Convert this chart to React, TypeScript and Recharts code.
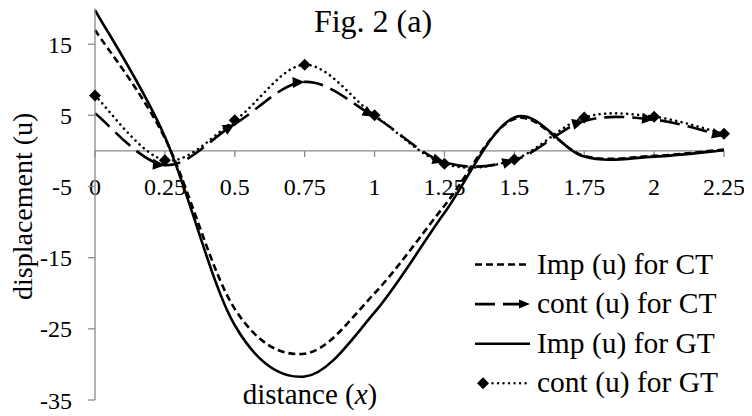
import React from 'react';
import { LineChart, Line, XAxis, YAxis, ReferenceLine, Legend } from 'recharts';

// Sample positions along the beam (x) and the displacement u at each one
const xValues = [0, 0.25, 0.5, 0.75, 1, 1.25, 1.5, 1.75, 2, 2.25];
const impCT = [17.0, 1.8, -22.2, -28.5, -20.0, -7.7, 4.5, -0.7, -0.7, 0.2];
const contCT = [5.3, -2.0, 3.8, 9.7, 4.8, -1.6, -1.3, 4.2, 4.4, 2.1];
const impGT = [19.8, 2.0, -24.5, -31.7, -22.7, -8.7, 4.7, -0.8, -0.8, 0.1];
const contGT = [7.8, -1.3, 4.3, 12.1, 5.0, -1.8, -1.2, 4.7, 4.8, 2.4];

const xDomain: [number, number] = [0, 2.25];
const xTicks = [0, 0.25, 0.5, 0.75, 1, 1.25, 1.5, 1.75, 2, 2.25];
const xTickLabels = ['0', '0.25', '0.5', '0.75', '1', '1.25', '1.5', '1.75', '2', '2.25'];
const yDomain: [number, number] = [-35, 20];
const yTicks = [-35, -25, -15, -5, 5, 15];

const seriesKeys = ['impCT', 'contCT', 'impGT', 'contGT'];
const seriesNames = ['Imp (u) for CT', 'cont (u) for CT', 'Imp (u) for GT', 'cont (u) for GT'];

const data = xValues.map((x, i) => ({
  x,
  impCT: impCT[i],
  contCT: contCT[i],
  impGT: impGT[i],
  contGT: contGT[i],
}));

const FONT = 'Liberation Serif';
const AXIS = '#8a8a8a';
const INK = '#000';

// Cubic Bezier smoothing through every point (Catmull-Rom style control points)
function smoothCurve(context: any) {
  let pts: [number, number][] = [];
  return {
    areaStart() {},
    areaEnd() {},
    lineStart() {
      pts = [];
    },
    point(x: number, y: number) {
      pts.push([+x, +y]);
    },
    lineEnd() {
      const n = pts.length;
      if (!n) return;
      context.moveTo(pts[0][0], pts[0][1]);
      for (let i = 0; i < n - 1; i++) {
        const p0 = pts[Math.max(i - 1, 0)];
        const p1 = pts[i];
        const p2 = pts[i + 1];
        const p3 = pts[Math.min(i + 2, n - 1)];
        context.bezierCurveTo(
          p1[0] + (p2[0] - p0[0]) / 6,
          p1[1] + (p2[1] - p0[1]) / 6,
          p2[0] - (p3[0] - p1[0]) / 6,
          p2[1] - (p3[1] - p1[1]) / 6,
          p2[0],
          p2[1]
        );
      }
    },
  };
}

// Arrowhead at the end of each segment, pointing along the curve
const ArrowDot = (props: any) => {
  const { cx, cy, index, points } = props;
  if (index === 0 || cx == null || cy == null) return <g key={`a-${index}`} />;
  let dx = 1;
  let dy = 0;
  if (Array.isArray(points) && points.length > 1) {
    const prev = points[index - 1];
    const next = points[Math.min(index + 1, points.length - 1)];
    dx = next.x - prev.x;
    dy = next.y - prev.y;
  }
  const ang = (Math.atan2(dy, dx) * 180) / Math.PI;
  return (
    <path
      key={`a-${index}`}
      d="M0,0 L-12,-5.5 L-12,5.5 Z"
      transform={`translate(${cx},${cy}) rotate(${ang})`}
      fill={INK}
    />
  );
};

const DiamondDot = (props: any) => {
  const { cx, cy, index } = props;
  if (cx == null || cy == null) return <g key={`d-${index}`} />;
  const s = 6;
  return (
    <path
      key={`d-${index}`}
      d={`M${cx},${cy - s} L${cx + s},${cy} L${cx},${cy + s} L${cx - s},${cy} Z`}
      fill={INK}
    />
  );
};

// Horizontal axis drawn through u = 0
const ZeroAxis = (props: any) => {
  const { x1, x2, y1 } = props;
  if (x1 == null || x2 == null || y1 == null) return <g />;
  const span = xDomain[1] - xDomain[0];
  return (
    <g>
      <line x1={x1} y1={y1} x2={x2} y2={y1} stroke={AXIS} strokeWidth={1.3} />
      {xTicks.map((t, i) => {
        const x = x1 + ((t - xDomain[0]) / span) * (x2 - x1);
        return (
          <g key={t}>
            <line x1={x} x2={x} y1={y1} y2={y1 + 6} stroke={AXIS} strokeWidth={1.3} />
            <text x={x} y={y1 + 44} textAnchor="middle" fontSize={24} fontFamily={FONT} fill={INK}>
              {xTickLabels[i]}
            </text>
          </g>
        );
      })}
    </g>
  );
};

const sampleFor = (key: string, y: number) => {
  const x0 = 5;
  const x1 = 60;
  switch (key) {
    case 'impCT':
      return <line x1={x0} x2={x1} y1={y} y2={y} stroke={INK} strokeWidth={2.6} strokeDasharray="7 4" />;
    case 'contCT':
      return (
        <g>
          <line x1={x0} x2={x1 - 8} y1={y} y2={y} stroke={INK} strokeWidth={2.6} strokeDasharray="20 8" />
          <path d={`M${x1},${y} L${x1 - 11},${y - 4.5} L${x1 - 11},${y + 4.5} Z`} fill={INK} />
        </g>
      );
    case 'impGT':
      return <line x1={x0} x2={x1} y1={y} y2={y} stroke={INK} strokeWidth={2.6} />;
    default:
      return (
        <g>
          <line
            x1={x0 + 12}
            x2={x1}
            y1={y}
            y2={y}
            stroke={INK}
            strokeWidth={2.4}
            strokeDasharray="0.01 5.5"
            strokeLinecap="round"
          />
          <path d={`M${x0 + 8},${y - 6} L${x0 + 14},${y} L${x0 + 8},${y + 6} L${x0 + 2},${y} Z`} fill={INK} />
        </g>
      );
  }
};

// Legend rows follow the series order; names come from the legend payload
const renderLegend = (props: any) => {
  const payload: any[] = props.payload || [];
  return (
    <svg width={282} height={170} style={{ display: 'block', overflow: 'visible' }}>
      {seriesKeys.map((key, i) => {
        const entry = payload.find((e: any) => String(e.dataKey) === key);
        const label = entry ? entry.value : seriesNames[i];
        const y = 19.5 + 39.6 * i;
        return (
          <g key={key}>
            {sampleFor(key, y)}
            <text x={67} y={y + 9} fontSize={29.5} fontFamily={FONT} fill={INK}>
              {label}
            </text>
          </g>
        );
      })}
    </svg>
  );
};

const YLabel = (props: any) => {
  const vb = props.viewBox || {};
  const cy = (vb.y ?? 0) + (vb.height ?? 0) / 2 + 2;
  return (
    <text
      transform={`translate(32,${cy}) rotate(-90)`}
      textAnchor="middle"
      fontSize={28}
      fontFamily={FONT}
      fill={INK}
    >
      displacement (u)
    </text>
  );
};

export default function App() {
  return (
    <div style={{ width: 752, height: 416, margin: '-8px 0 0 -8px', fontFamily: FONT }}>
      <LineChart
        width={752}
        height={416}
        data={data}
        margin={{ top: 8.6, right: 28, bottom: 16, left: 0 }}
        style={{ fontFamily: FONT }}
      >
        <XAxis dataKey="x" type="number" domain={xDomain} ticks={xTicks} hide />
        <YAxis
          type="number"
          domain={yDomain}
          ticks={yTicks}
          interval={0}
          width={95}
          allowDataOverflow
          axisLine={{ stroke: AXIS, strokeWidth: 1.3 }}
          tickLine={{ stroke: AXIS, strokeWidth: 1.3 }}
          tickSize={7}
          tickMargin={16}
          tick={{ fontSize: 24, fill: INK, fontFamily: FONT }}
          label={<YLabel />}
        />
        <ReferenceLine y={0} shape={(p: any) => <ZeroAxis {...p} />} ifOverflow="visible" />
        <Line
          dataKey="impCT"
          name={seriesNames[0]}
          type={smoothCurve as any}
          stroke={INK}
          strokeWidth={2.6}
          strokeDasharray="7 4"
          dot={false}
          activeDot={false}
          isAnimationActive={false}
        />
        <Line
          dataKey="contCT"
          name={seriesNames[1]}
          type={smoothCurve as any}
          stroke={INK}
          strokeWidth={2.6}
          strokeDasharray="20 8"
          dot={(p: any) => <ArrowDot {...p} />}
          activeDot={false}
          isAnimationActive={false}
        />
        <Line
          dataKey="impGT"
          name={seriesNames[2]}
          type={smoothCurve as any}
          stroke={INK}
          strokeWidth={2.6}
          dot={false}
          activeDot={false}
          isAnimationActive={false}
        />
        <Line
          dataKey="contGT"
          name={seriesNames[3]}
          type={smoothCurve as any}
          stroke={INK}
          strokeWidth={2.6}
          strokeDasharray="0.01 5.5"
          strokeLinecap="round"
          dot={(p: any) => <DiamondDot {...p} />}
          activeDot={false}
          isAnimationActive={false}
        />
        <Legend
          layout="vertical"
          align="center"
          verticalAlign="middle"
          content={renderLegend}
          wrapperStyle={{ position: 'absolute', left: 470, top: 245, width: 282, height: 170 }}
        />
        <text x={373} y={32} textAnchor="middle" fontSize={32} fontFamily={FONT} fill={INK}>
          Fig. 2 (a)
        </text>
        <text x={310} y={404} textAnchor="middle" fontSize={29} fontFamily={FONT} fill={INK}>
          distance (<tspan fontStyle="italic">x</tspan>)
        </text>
      </LineChart>
    </div>
  );
}
